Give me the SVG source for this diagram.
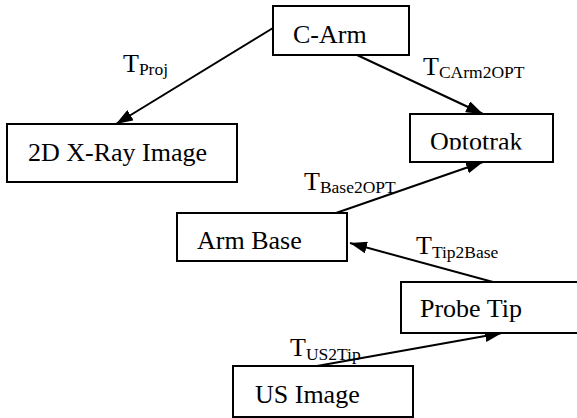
<svg xmlns="http://www.w3.org/2000/svg" width="577" height="418" viewBox="0 0 577 418">
<defs>
<style>
.box{fill:#fff;stroke:#000;stroke-width:2}
.lbl{font-family:"Liberation Serif","Times New Roman",serif;font-size:26px;fill:#000}
.sub{font-size:17.5px}
.edge{stroke:#000;stroke-width:2;fill:none;marker-end:url(#ah)}
</style>
<marker id="ah" markerUnits="userSpaceOnUse" markerWidth="18" markerHeight="12" refX="17" refY="6" orient="auto">
<path d="M0,0 L17,6 L0,12 z" fill="#000"/>
</marker>
<clipPath id="optclip"><rect x="411" y="115" width="141" height="34.5"/></clipPath>
</defs>
<rect width="577" height="418" fill="#fff"/>
<g id="connectors">
<line class="edge" x1="273" y1="28" x2="116" y2="124"/>
<line class="edge" x1="357" y1="55" x2="483" y2="114"/>
<line class="edge" x1="336" y1="213" x2="483" y2="162"/>
<line class="edge" x1="493" y1="282" x2="350" y2="243"/>
<line class="edge" x1="317" y1="366" x2="502" y2="333"/>
</g>
<g id="node-carm">
<rect class="box" x="273" y="6" width="136" height="49"/>
<text class="lbl" x="293" y="43">C-Arm</text>
</g>
<g id="node-xray">
<rect class="box" x="7" y="124" width="230" height="58"/>
<text class="lbl" x="28" y="161">2D X-Ray Image</text>
</g>
<g id="node-optotrak">
<rect class="box" x="410" y="114" width="143" height="48"/>
<text class="lbl" x="430" y="150" clip-path="url(#optclip)">Optotrak</text>
</g>
<g id="node-armbase">
<rect class="box" x="177" y="213" width="170" height="48"/>
<text class="lbl" x="197" y="249">Arm Base</text>
</g>
<g id="node-probetip">
<rect class="box" x="401" y="282" width="180" height="51"/>
<text class="lbl" x="420" y="317">Probe Tip</text>
</g>
<g id="node-usimage">
<rect class="box" x="233" y="366" width="180" height="51"/>
<text class="lbl" x="255" y="403">US Image</text>
</g>
<g id="labels">
<text class="lbl" x="123" y="72">T<tspan class="sub" dy="3">Proj</tspan></text>
<text class="lbl" x="423" y="75">T<tspan class="sub" dy="3">CArm2OPT</tspan></text>
<text class="lbl" x="304" y="190">T<tspan class="sub" dy="3">Base2OPT</tspan></text>
<text class="lbl" x="416" y="254">T<tspan class="sub" dy="4">Tip2Base</tspan></text>
<text class="lbl" x="290" y="356">T<tspan class="sub" dy="4">US2Tip</tspan></text>
</g>
</svg>
